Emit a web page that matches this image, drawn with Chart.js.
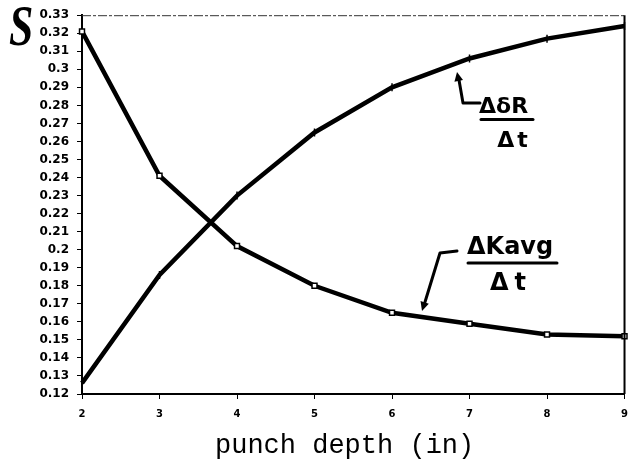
<!DOCTYPE html>
<html>
<head>
<meta charset="utf-8">
<script src="https://cdn.jsdelivr.net/npm/chart.js@4.4.0/dist/chart.umd.min.js"></script>
<style>
  html, body { margin: 0; padding: 0; background: #fff; }
  #wrap { width: 637px; height: 461px; position: relative; }
</style>
</head>
<body>
<div id="wrap"><canvas id="c" width="637" height="461"></canvas></div>
<script>
// ---- data ----
const xLabels = ['2', '3', '4', '5', '6', '7', '8', '9'];
const deltaR = [0.126, 0.186, 0.230, 0.265, 0.290, 0.306, 0.317, 0.324];   // ΔδR/Δt
const deltaK = [0.321, 0.241, 0.202, 0.180, 0.165, 0.159, 0.153, 0.152];   // ΔKavg/Δt
const yMin = 0.12, yMax = 0.33, yStep = 0.01;
const xTitle = 'punch depth (in)';
const yTitle = 'S';

const annotate = {
  id: 'annotate',
  afterDraw(chart) {
    const ctx = chart.ctx, a = chart.chartArea;
    ctx.save();
    // top dashed frame line
    ctx.strokeStyle = '#333'; ctx.lineWidth = 1; ctx.setLineDash([9, 2, 3, 2]);
    ctx.beginPath(); ctx.moveTo(a.left, a.top + 0.5); ctx.lineTo(a.right, a.top + 0.5); ctx.stroke();
    ctx.setLineDash([]);
    // right frame line
    ctx.strokeStyle = '#000'; ctx.lineWidth = 2;
    ctx.beginPath(); ctx.moveTo(a.right, a.top); ctx.lineTo(a.right, a.bottom); ctx.stroke();

    // y "title" S
    ctx.save();
    ctx.fillStyle = '#000';
    ctx.font = 'bold italic 56px "Liberation Serif"';
    ctx.translate(9, 45);
    ctx.scale(0.78, 1);
    ctx.textBaseline = 'alphabetic';
    ctx.fillText(yTitle, 0, 0);
    ctx.restore();

    // x title
    ctx.fillStyle = '#000';
    ctx.font = '27px "Liberation Mono"';
    ctx.textAlign = 'left'; ctx.textBaseline = 'alphabetic';
    ctx.fillText(xTitle, 215, 453);

    function arrowHead(x1, y1, x2, y2) {
      const ang = Math.atan2(y2 - y1, x2 - x1), L = 10, W = 0.45;
      ctx.beginPath();
      ctx.moveTo(x2, y2);
      ctx.lineTo(x2 - L * Math.cos(ang - W), y2 - L * Math.sin(ang - W));
      ctx.lineTo(x2 - L * Math.cos(ang + W), y2 - L * Math.sin(ang + W));
      ctx.closePath(); ctx.fill();
    }
    ctx.strokeStyle = '#000'; ctx.fillStyle = '#000'; ctx.lineWidth = 3; ctx.lineCap = 'round'; ctx.lineJoin = 'round';

    // ΔδR / Δt label
    ctx.beginPath(); ctx.moveTo(480, 103); ctx.lineTo(463, 103); ctx.lineTo(459, 80); ctx.stroke();
    arrowHead(463, 103, 457, 72);
    ctx.font = 'bold 22px "DejaVu Sans"';
    ctx.textAlign = 'left';
    ctx.fillText('ΔδR', 479, 113);
    ctx.beginPath(); ctx.moveTo(481, 119.5); ctx.lineTo(533, 119.5); ctx.stroke();
    ctx.textAlign = 'center';
    ctx.letterSpacing = '3px';
    ctx.fillText('Δt', 514, 147);
    ctx.letterSpacing = '0px';

    // ΔKavg / Δt label
    ctx.beginPath(); ctx.moveTo(457, 251); ctx.lineTo(440, 253); ctx.lineTo(425, 302); ctx.stroke();
    arrowHead(440, 253, 422, 311);
    ctx.font = 'bold 24px "DejaVu Sans"';
    ctx.textAlign = 'left';
    ctx.fillText('ΔKavg', 467, 254);
    ctx.beginPath(); ctx.moveTo(468, 263); ctx.lineTo(557, 263); ctx.stroke();
    ctx.textAlign = 'center';
    ctx.letterSpacing = '6px';
    ctx.fillText('Δt', 511, 290);
    ctx.letterSpacing = '0px';
    ctx.restore();
  }
};

new Chart(document.getElementById('c'), {
  type: 'line',
  data: {
    labels: xLabels,
    datasets: [
      {
        label: 'ΔδR/Δt',
        data: deltaR,
        borderColor: '#000', backgroundColor: '#000',
        borderWidth: 4.5, tension: 0,
        pointStyle: 'line', rotation: 90, pointRadius: 4, pointBorderWidth: 1.5,
        pointBorderColor: '#000'
      },
      {
        label: 'ΔKavg/Δt',
        data: deltaK,
        borderColor: '#000', backgroundColor: '#fff',
        borderWidth: 4.5, tension: 0,
        pointStyle: 'rect', pointRadius: 3.5, pointBorderWidth: 1.5,
        pointBackgroundColor: '#fff', pointBorderColor: '#000'
      }
    ]
  },
  options: {
    responsive: false,
    animation: false,
    devicePixelRatio: 1,
    layout: { padding: { top: 15, right: 5, left: 0, bottom: 0 } },
    plugins: { legend: { display: false }, tooltip: { enabled: false }, title: { display: false } },
    scales: {
      x: {
        type: 'category',
        offset: false,
        grid: { display: true, drawOnChartArea: false, drawTicks: true, tickLength: 5, color: '#000', lineWidth: 1 },
        border: { display: true, color: '#000', width: 2 },
        ticks: { color: '#000', font: { family: 'DejaVu Sans', weight: 'bold', size: 10 }, padding: 9, maxRotation: 0 },
        afterFit(s) { s.height = 67; }
      },
      y: {
        min: yMin, max: yMax,
        grid: { display: true, drawOnChartArea: false, drawTicks: true, tickLength: 5, color: '#000', lineWidth: 1 },
        border: { display: true, color: '#000', width: 2 },
        ticks: {
          stepSize: yStep, color: '#000', padding: 8, autoSkip: false,
          font: { family: 'DejaVu Sans', weight: 'bold', size: 12 },
          callback: v => String(parseFloat(Number(v).toFixed(2)))
        },
        afterFit(s) { s.width = 82; }
      }
    }
  },
  plugins: [annotate]
});
</script>
</body>
</html>
